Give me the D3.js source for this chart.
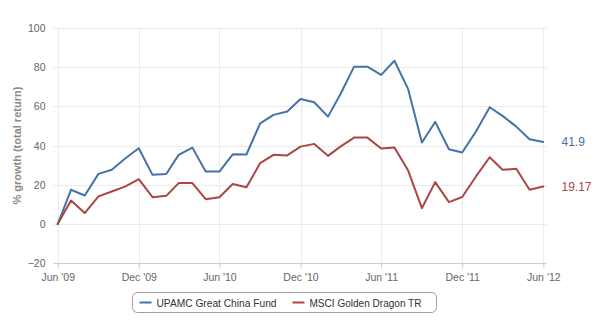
<!DOCTYPE html>
<html>
<head>
<meta charset="utf-8">
<script src="https://cdn.jsdelivr.net/npm/d3@7"></script>
<style>
  html, body { margin: 0; padding: 0; background: #fff; }
  svg { display: block; font-family: "Liberation Sans", Arial, sans-serif; }
</style>
</head>
<body>
<svg id="chart" width="600" height="328"></svg>
<script>
// ---- data ----
const startMonth = "2009-06";
const seriesNames = ["UPAMC Great China Fund", "MSCI Golden Dragon TR"];
const fundValues = [0, 17.5, 14.6, 25.6, 27.7, 33.6, 38.7, 25.1, 25.5, 35.3, 39.0, 26.8, 26.8,
  35.6, 35.5, 51.4, 55.7, 57.4, 63.8, 62.1, 54.8, 66.2, 80.3, 80.3, 76.1, 83.3, 68.8,
  41.6, 52.1, 38.2, 36.5, 47.2, 59.6, 55.2, 49.7, 43.3, 41.9];
const indexValues = [0, 12.0, 5.6, 14.1, 16.6, 19.2, 22.9, 13.7, 14.4, 20.9, 20.9, 12.7, 13.7,
  20.4, 18.8, 31.1, 35.3, 35.0, 39.5, 40.9, 34.8, 39.5, 44.1, 44.1, 38.5, 39.0, 27.3,
  8.1, 21.4, 11.2, 13.8, 24.3, 34.1, 27.7, 28.2, 17.5, 19.17];
const yTicks = [-20, 0, 20, 40, 60, 80, 100];
const xTickLabels = ["Jun '09", "Dec '09", "Jun '10", "Dec '10", "Jun '11", "Dec '11", "Jun '12"];
const endLabels = ["41.9", "19.17"];
const colors = ["#4572A7", "#AA4643"];
const yTitle = "% growth (total return)";

// ---- build ----
const parse = d3.utcParse("%Y-%m");
const start = parse(startMonth);
const dates = fundValues.map((_, i) => d3.utcMonth.offset(start, i));
const series = [fundValues, indexValues].map((vals, s) => ({
  name: seriesNames[s], color: colors[s], label: endLabels[s],
  points: vals.map((v, i) => ({ date: dates[i], value: v }))
}));
const xTickDates = xTickLabels.map((_, i) => d3.utcMonth.offset(start, i * 6));

const svg = d3.select("#chart");
const plotLeft = 53.5, plotRight = 546.5, plotTop = 28, plotBottom = 263.3;

const x = d3.scaleUtc().domain([dates[0], dates[dates.length - 1]]).range([57.7, 543.3]);
const y = d3.scaleLinear().domain([-20, 100]).range([plotBottom, plotTop]);

// horizontal grid
svg.append("g").selectAll("line").data(yTicks.filter(t => t !== -20)).join("line")
  .attr("x1", plotLeft).attr("x2", plotRight)
  .attr("y1", d => Math.round(y(d)) + 0.5).attr("y2", d => Math.round(y(d)) + 0.5)
  .attr("stroke", "#ebebeb").attr("stroke-width", 1);

// vertical grid
svg.append("g").selectAll("line").data(xTickDates).join("line")
  .attr("x1", d => Math.round(x(d)) + 0.5).attr("x2", d => Math.round(x(d)) + 0.5)
  .attr("y1", plotTop).attr("y2", plotBottom)
  .attr("stroke", "#ebebeb").attr("stroke-width", 1);

// x axis
const xAxis = d3.axisBottom(x).tickValues(xTickDates)
  .tickFormat((d, i) => xTickLabels[i]).tickSizeOuter(0).tickSize(5).tickPadding(5);
const gx = svg.append("g").attr("transform", `translate(0,${Math.round(plotBottom) + 0.5})`).call(xAxis);
gx.select(".domain").attr("d", `M${plotLeft},0H${plotRight}`).attr("stroke", "#C0D0E0");
gx.selectAll(".tick line").attr("stroke", "#C0D0E0");
gx.selectAll(".tick text").attr("fill", "#666").attr("font-size", 10.5)
  .attr("font-family", "Liberation Sans, Arial, sans-serif");

// y axis labels
const yAxis = d3.axisLeft(y).tickValues(yTicks).tickSize(0).tickPadding(8);
const gy = svg.append("g").attr("transform", `translate(${plotLeft},0)`).call(yAxis);
gy.select(".domain").remove();
gy.selectAll(".tick text").attr("fill", "#666").attr("font-size", 10.5)
  .attr("font-family", "Liberation Sans, Arial, sans-serif");

// y title
svg.append("text")
  .attr("transform", `translate(21,${(plotTop + plotBottom) / 2}) rotate(-90)`)
  .attr("text-anchor", "middle").attr("fill", "#8a8a8a").attr("font-size", 11)
  .attr("font-weight", "bold").text(yTitle);

// lines
const line = d3.line().x(d => x(d.date)).y(d => y(d.value));
svg.append("g").selectAll("path").data(series).join("path")
  .attr("d", d => line(d.points)).attr("fill", "none")
  .attr("stroke", d => d.color).attr("stroke-width", 2)
  .attr("stroke-linejoin", "round").attr("stroke-linecap", "round");

// end labels
svg.append("g").selectAll("text").data(series).join("text")
  .attr("x", 561.5).attr("y", d => y(d.points[d.points.length - 1].value))
  .attr("dy", "0.35em").attr("fill", d => d.color).attr("font-size", 12)
  .text(d => d.label);

// legend
const lg = svg.append("g");
lg.append("rect").attr("x", 132.5).attr("y", 292.5).attr("width", 304).attr("height", 20)
  .attr("rx", 5).attr("fill", "#fff").attr("stroke", "#a0a0a0");
const itemX = [139.5, 292.5];
const itemW = [120, 112];
const items = lg.selectAll("g.item").data(series).join("g").attr("class", "item")
  .attr("transform", (d, i) => `translate(${itemX[i]},302.5)`);
items.append("line").attr("x1", 0).attr("x2", 12).attr("stroke", d => d.color).attr("stroke-width", 2);
items.append("text").attr("x", 17).attr("dy", "0.35em").attr("font-size", 11.5)
  .attr("textLength", (d, i) => itemW[i]).attr("lengthAdjust", "spacingAndGlyphs")
  .attr("fill", "#333").text(d => d.name);
</script>
</body>
</html>
